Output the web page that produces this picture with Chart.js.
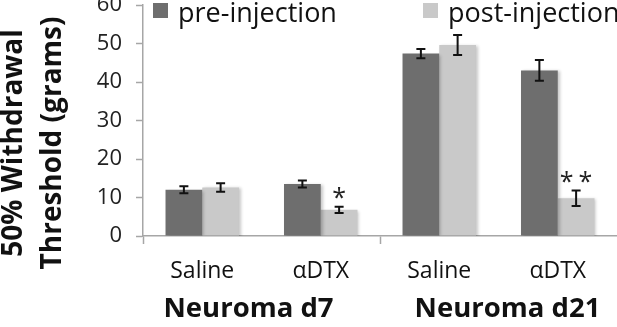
<!DOCTYPE html>
<html><head><meta charset="utf-8">
<script src="https://cdn.jsdelivr.net/npm/chart.js@4"></script>
<style>html,body{margin:0;padding:0;background:#fff}#wrap{width:617px;height:327px}</style>
</head><body><div id="wrap"><canvas id="c" width="617" height="327"></canvas></div>
<script>
const categories = ['Saline', 'αDTX', 'Saline', 'αDTX'];
const groups = ['Neuroma d7', 'Neuroma d21'];
const groupSizes = [2, 2];
const seriesNames = ['pre-injection', 'post-injection'];
const preValues = [12.0, 13.5, 47.4, 43.0];
const preErrors = [0.9, 0.9, 1.2, 2.7];
const postValues = [12.6, 6.8, 49.6, 9.8];
const postErrors = [1.1, 0.8, 2.6, 2.0];
const postSignificance = ['', '*', '', '**'];
const yTitleLines = ['50% Withdrawal', 'Threshold (grams)'];
const yMin = 0, yMax = 60, yStep = 10;

const DARK = '#6e6e6e', LIGHT = '#c9c9c9', AXIS = '#a6a6a6';
const FONT = '"Open Sans", "Liberation Sans", sans-serif';

const errorsByDataset = [preErrors, postErrors];
const marksByDataset = [null, postSignificance];

const shadowPlugin = {
  id: 'shadow',
  beforeDatasetsDraw(chart) {
    const ctx = chart.ctx; ctx.save();
    ctx.shadowColor = 'rgba(0,0,0,0.22)'; ctx.shadowBlur = 3; ctx.shadowOffsetX = 2; ctx.shadowOffsetY = 1;
  },
  afterDatasetsDraw(chart) { chart.ctx.restore(); }
};

const errorPlugin = {
  id: 'errors',
  afterDatasetsDraw(chart) {
    const ctx = chart.ctx, y = chart.scales.y;
    ctx.save();
    chart.data.datasets.forEach((ds, di) => {
      const meta = chart.getDatasetMeta(di);
      const errs = errorsByDataset[di];
      const marks = marksByDataset[di];
      meta.data.forEach((bar, i) => {
        const v = ds.data[i], e = errs[i];
        const yt = y.getPixelForValue(v + e), yb = y.getPixelForValue(v - e);
        ctx.strokeStyle = '#111'; ctx.lineWidth = 2;
        ctx.beginPath();
        ctx.moveTo(bar.x, yt); ctx.lineTo(bar.x, yb);
        ctx.moveTo(bar.x - 4.5, yt); ctx.lineTo(bar.x + 4.5, yt);
        ctx.moveTo(bar.x - 4.5, yb); ctx.lineTo(bar.x + 4.5, yb);
        ctx.stroke();
        if (marks && marks[i]) {
          ctx.font = '25px ' + FONT;
          ctx.fillStyle = '#222';
          ctx.textAlign = 'center';
          ctx.textBaseline = 'alphabetic';
          ctx.letterSpacing = '5px';
          const m = ctx.measureText(marks[i]);
          const cy = yt - 14;
          const base = cy - (m.actualBoundingBoxDescent - m.actualBoundingBoxAscent) / 2;
          ctx.fillText(marks[i], bar.x + 2.5, base);
          ctx.letterSpacing = '0px';
        }
      });
    });
    ctx.restore();
  }
};

const groupOffsets = [-13, 9];
const labelsPlugin = {
  id: 'extraLabels',
  afterDraw(chart) {
    const ctx = chart.ctx, x = chart.scales.x;
    ctx.save();
    // group labels
    ctx.font = 'bold 27.5px ' + FONT;
    ctx.fillStyle = '#111';
    ctx.textAlign = 'center';
    ctx.textBaseline = 'middle';
    let start = 0;
    groups.forEach((g, gi) => {
      const n = groupSizes[gi];
      const cx = (x.getPixelForValue(start) + x.getPixelForValue(start + n - 1)) / 2;
      ctx.fillText(g, cx + groupOffsets[gi], 309);
      start += n;
    });
    // y title
    ctx.font = 'bold 28px ' + FONT;
    ctx.translate(0, 143);
    ctx.rotate(-Math.PI / 2);
    yTitleLines.forEach((t, li) => {
      ctx.fillText(t, 0, 14 + li * 39);
    });
    ctx.restore();
    // legend
    ctx.save();
    const legendX = [153, 423];
    chart.data.datasets.forEach((ds, di) => {
      const lx = legendX[di];
      ctx.fillStyle = ds.backgroundColor;
      ctx.fillRect(lx, 3, 15, 15);
      ctx.font = '27px ' + FONT;
      ctx.fillStyle = '#111';
      ctx.textAlign = 'left';
      ctx.textBaseline = 'alphabetic';
      ctx.fillText(ds.label, lx + 25, 22);
    });
    ctx.restore();
  }
};

new Chart(document.getElementById('c'), {
  type: 'bar',
  data: {
    labels: categories,
    datasets: [
      { label: seriesNames[0], data: preValues, backgroundColor: DARK, categoryPercentage: 0.62, barPercentage: 1.0 },
      { label: seriesNames[1], data: postValues, backgroundColor: LIGHT, categoryPercentage: 0.62, barPercentage: 1.0 }
    ]
  },
  options: {
    responsive: false,
    animation: false,
    devicePixelRatio: 1,
    layout: { padding: { top: 5, right: 0, left: 0, bottom: 0 } },
    plugins: { legend: { display: false }, tooltip: { enabled: false } },
    scales: {
      x: {
        grid: {
          offset: true, drawOnChartArea: false, tickLength: 8,
          tickColor: (c) => (c.index % 2 === 0 ? AXIS : 'rgba(0,0,0,0)'), tickWidth: 1.5
        },
        border: { color: AXIS, width: 1.5 },
        ticks: { font: { family: FONT, size: 23 }, color: '#111', padding: 14, maxRotation: 0 },
        afterFit(s) { s.height = 91; s.paddingLeft = 0; s.paddingRight = 0; }
      },
      y: {
        min: yMin, max: yMax,
        grid: { drawOnChartArea: false, tickLength: 7, tickColor: AXIS, tickWidth: 1.5 },
        border: { color: AXIS, width: 1.5 },
        ticks: { stepSize: yStep, font: { family: FONT, size: 22 }, color: '#222', padding: 14 },
        afterFit(s) { s.width = 143; s.paddingTop = 0; s.paddingBottom = 0; }
      }
    }
  },
  plugins: [shadowPlugin, errorPlugin, labelsPlugin]
});
</script></body></html>
